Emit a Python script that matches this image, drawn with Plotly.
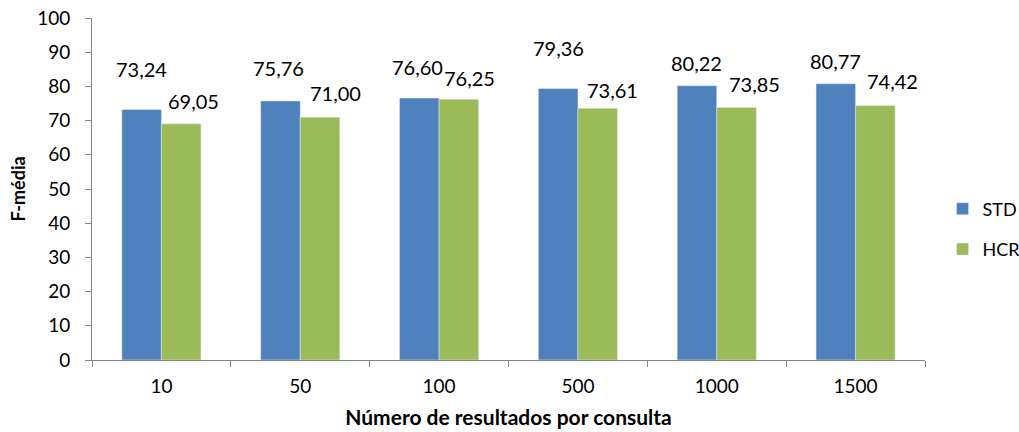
import plotly.graph_objects as go

# Data: F-média per number of results per query
categories = ["10", "50", "100", "500", "1000", "1500"]
std_values = [73.24, 75.76, 76.60, 79.36, 80.22, 80.77]
hcr_values = [69.05, 71.00, 76.25, 73.61, 73.85, 74.42]

# Label placement (pixels relative to the top of each bar)
std_label_dy = [41, 33, 31.5, 40.5, 22.5, 23]
std_label_dx = [0, -2, -2, 0, 0, 0]
hcr_label_dy = [22.5, 24, 21, 18, 23.5, 24]
hcr_label_dx = [12, 15, 10.5, 15, 17.5, 17.5]

BLUE = "#4F81BD"
GREEN = "#9BBB59"
AXIS = "#868686"
FONT = "Lato, Carlito, Calibri, sans-serif"
BARGAP = 0.43

fig = go.Figure()
fig.add_trace(go.Bar(name="STD", x=categories, y=std_values, marker_color=BLUE,
                     legendgroup="std"))
fig.add_trace(go.Bar(name="HCR", x=categories, y=hcr_values, marker_color=GREEN,
                     legendgroup="hcr"))

# Value labels above each bar (decimal comma)
half = (1 - BARGAP) / 4
for series, offset, dxs, dys in ((std_values, -half, std_label_dx, std_label_dy),
                                 (hcr_values, half, hcr_label_dx, hcr_label_dy)):
    for i, v in enumerate(series):
        fig.add_annotation(
            x=i + offset, y=v, xref="x", yref="y",
            text=f"{v:.2f}".replace(".", ","),
            showarrow=False, xanchor="center", yanchor="middle",
            xshift=dxs[i], yshift=dys[i],
            font=dict(family=FONT, size=20, color="#000000"),
        )

fig.update_layout(
    width=1019, height=432,
    margin=dict(l=92, r=94, t=18, b=72, autoexpand=False),
    paper_bgcolor="white", plot_bgcolor="white",
    barmode="group", bargap=BARGAP, bargroupgap=0,
    font=dict(family=FONT, size=19, color="#000000"),
    showlegend=True,
    legend=dict(
        x=0.925, xanchor="left", xref="container",
        y=0.47, yanchor="middle", yref="container",
        font=dict(family=FONT, size=18),
        tracegroupgap=14,
        bgcolor="rgba(0,0,0,0)",
    ),
    xaxis=dict(
        type="category", automargin=False,
        showline=True, linecolor=AXIS, linewidth=1,
        ticks="outside", tickson="boundaries", ticklen=6, tickcolor=AXIS,
        showgrid=False, zeroline=False,
        ticklabelstandoff=9,
        tickfont=dict(family=FONT, size=19),
        title=dict(text="<b>Número de resultados por consulta</b>",
                   font=dict(family=FONT, size=21), standoff=14),
    ),
    yaxis=dict(
        range=[0, 100], dtick=10, tick0=0, automargin=False,
        showline=True, linecolor=AXIS, linewidth=1,
        ticks="outside", ticklen=6, tickcolor=AXIS,
        showgrid=False, zeroline=False,
        ticklabelstandoff=11,
        tickfont=dict(family=FONT, size=19),
        title=dict(text="<b>F-média</b>", font=dict(family=FONT, size=18),
                   standoff=6),
    ),
)

fig.write_html("out.html")
